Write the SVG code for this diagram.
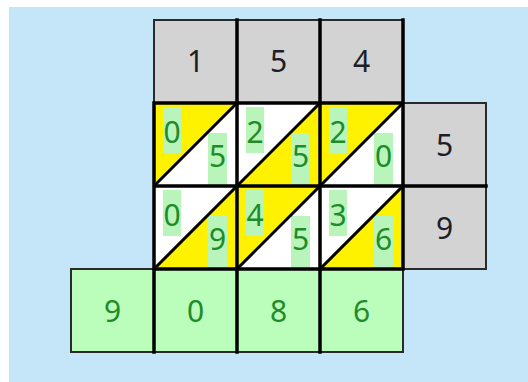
<svg xmlns="http://www.w3.org/2000/svg" width="528" height="382" viewBox="0 0 528 382">
<style>
.bg{fill:#c5e5f8}
.gray{fill:#d3d3d3;stroke:#2a2a2a;stroke-width:2}
.res{fill:#bbfdbb;stroke:#2a2a2a;stroke-width:2}
.wh{fill:#ffffff}
.ye{fill:#fff200}
.hl{fill:#b9f5bb}
.grid{stroke:#000;stroke-width:3.5;fill:none;stroke-linecap:square}
.diag{stroke:#000;stroke-width:3;fill:none}
text{font-family:"Noto Sans","Open Sans","DejaVu Sans",sans-serif;font-size:30px;text-anchor:middle}
.dk{fill:#1e1e28}
.gn{fill:#1e8c28}
</style>
<rect class="bg" x="9" y="7" width="519" height="375"/>

<g id="top-1"><rect class="gray" x="154" y="20" width="83" height="83"/><text class="dk" x="195.5" y="72">1</text></g>
<g id="top-5"><rect class="gray" x="237" y="20" width="83" height="83"/><text class="dk" x="278.5" y="72">5</text></g>
<g id="top-4"><rect class="gray" x="320" y="20" width="83" height="83"/><text class="dk" x="361.5" y="72">4</text></g>

<g id="right-5"><rect class="gray" x="403" y="103" width="83" height="83"/><text class="dk" x="444.5" y="156">5</text></g>
<g id="right-9"><rect class="gray" x="403" y="186" width="83" height="83"/><text class="dk" x="444.5" y="239">9</text></g>

<g id="res-9"><rect class="res" x="71" y="269" width="83" height="83"/><text class="gn" x="112.5" y="322">9</text></g>
<g id="res-0"><rect class="res" x="154" y="269" width="83" height="83"/><text class="gn" x="195.5" y="322">0</text></g>
<g id="res-8"><rect class="res" x="237" y="269" width="83" height="83"/><text class="gn" x="278.5" y="322">8</text></g>
<g id="res-6"><rect class="res" x="320" y="269" width="83" height="83"/><text class="gn" x="361.5" y="322">6</text></g>

<g id="cell-1-1">
<rect class="wh" x="154" y="103" width="83" height="83"/>
<polygon class="ye" points="154,103 237,103 154,186"/>
<rect class="hl" x="163" y="107" width="18" height="46"/><text class="gn" x="172" y="143">0</text>
<rect class="hl" x="208" y="133" width="19" height="53"/><text class="gn" x="217.5" y="167">5</text>
</g>
<g id="cell-1-2">
<rect class="wh" x="237" y="103" width="83" height="83"/>
<polygon class="ye" points="320,103 320,186 237,186"/>
<rect class="hl" x="246" y="107" width="18" height="46"/><text class="gn" x="255" y="143">2</text>
<rect class="hl" x="291" y="133" width="19" height="53"/><text class="gn" x="300.5" y="167">5</text>
</g>
<g id="cell-1-3">
<rect class="wh" x="320" y="103" width="83" height="83"/>
<polygon class="ye" points="320,103 403,103 320,186"/>
<rect class="hl" x="329" y="107" width="18" height="46"/><text class="gn" x="338" y="143">2</text>
<rect class="hl" x="374" y="133" width="19" height="53"/><text class="gn" x="383.5" y="167">0</text>
</g>
<g id="cell-2-1">
<rect class="wh" x="154" y="186" width="83" height="83"/>
<polygon class="ye" points="237,186 237,269 154,269"/>
<rect class="hl" x="163" y="190" width="18" height="46"/><text class="gn" x="172" y="226">0</text>
<rect class="hl" x="208" y="216" width="19" height="53"/><text class="gn" x="217.5" y="250">9</text>
</g>
<g id="cell-2-2">
<rect class="wh" x="237" y="186" width="83" height="83"/>
<polygon class="ye" points="237,186 320,186 237,269"/>
<rect class="hl" x="246" y="190" width="18" height="46"/><text class="gn" x="255" y="226">4</text>
<rect class="hl" x="291" y="216" width="19" height="53"/><text class="gn" x="300.5" y="250">5</text>
</g>
<g id="cell-2-3">
<rect class="wh" x="320" y="186" width="83" height="83"/>
<polygon class="ye" points="403,186 403,269 320,269"/>
<rect class="hl" x="329" y="190" width="18" height="46"/><text class="gn" x="338" y="226">3</text>
<rect class="hl" x="374" y="216" width="19" height="53"/><text class="gn" x="383.5" y="250">6</text>
</g>

<g id="connectors">
<path class="diag" d="M154,186 L237,103 M237,186 L320,103 M320,186 L403,103 M154,269 L237,186 M237,269 L320,186 M320,269 L403,186"/>
<path class="grid" d="M154,103 H403 M154,186 H486 M154,269 H403 M154,103 V352 M237,20 V352 M320,20 V352 M403,20 V269"/>
</g>
</svg>
